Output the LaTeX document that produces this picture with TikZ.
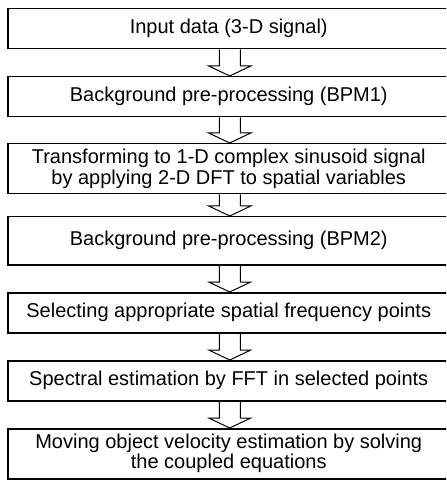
\documentclass[tikz,border=0pt]{standalone}
\usepackage{fontspec}
\setmainfont{Liberation Sans}
\usetikzlibrary{calc}
\tikzset{
  stepbox/.style={draw, line width=0.75pt, rectangle, minimum width=221pt,
    inner sep=0pt, align=center, font=\fontsize{10}{9.25}\selectfont, anchor=north west},
  hollow/.style={draw, line width=0.5pt, line join=miter}
}
\newcommand\hollowarrow[2]{%
  \draw[hollow] let \p1=(#1.south), \p2=(#2.north) in
    (\x1+0.5pt-5.25pt,\y1) -- (\x1+0.5pt-5.25pt,\y2+5pt) -- (\x1+0.5pt-10.5pt,\y2+5pt)
    -- (\x1+0.5pt,\y2) -- (\x1+0.5pt+10.5pt,\y2+5pt) -- (\x1+0.5pt+5.25pt,\y2+5pt)
    -- (\x1+0.5pt+5.25pt,\y1);}
\begin{document}
\begin{tikzpicture}[x=0.5pt,y=-0.5pt]
\useasboundingbox (0,0) rectangle (446,480);
\clip (0,0) rectangle (446,480);
\node[stepbox, minimum height=20pt] (b1) at (7,8) {Input data (3-D signal)};
\node[stepbox, minimum height=20pt] (b2) at (7,76) {Background pre-processing (BPM1)};
\node[stepbox, minimum height=25pt] (b3) at (7,143) {Transforming to 1-D complex sinusoid signal\\by applying 2-D DFT to spatial variables};
\node[stepbox, minimum height=24pt] (b4) at (7,216) {Background pre-processing (BPM2)};
\node[stepbox, minimum height=20pt] (b5) at (7,292) {Selecting appropriate spatial frequency points};
\node[stepbox, minimum height=20pt] (b6) at (7,360) {\raisebox{1.5pt}{Spectral estimation by FFT in selected points}};
\node[stepbox, minimum height=25pt] (b7) at (7,428) {\raisebox{3.5pt}{\begin{tabular}{@{}c@{}}Moving object velocity estimation by solving\\the coupled equations\end{tabular}}};
\hollowarrow{b1}{b2}
\hollowarrow{b2}{b3}
\hollowarrow{b3}{b4}
\hollowarrow{b4}{b5}
\hollowarrow{b5}{b6}
\hollowarrow{b6}{b7}
\end{tikzpicture}
\end{document}
